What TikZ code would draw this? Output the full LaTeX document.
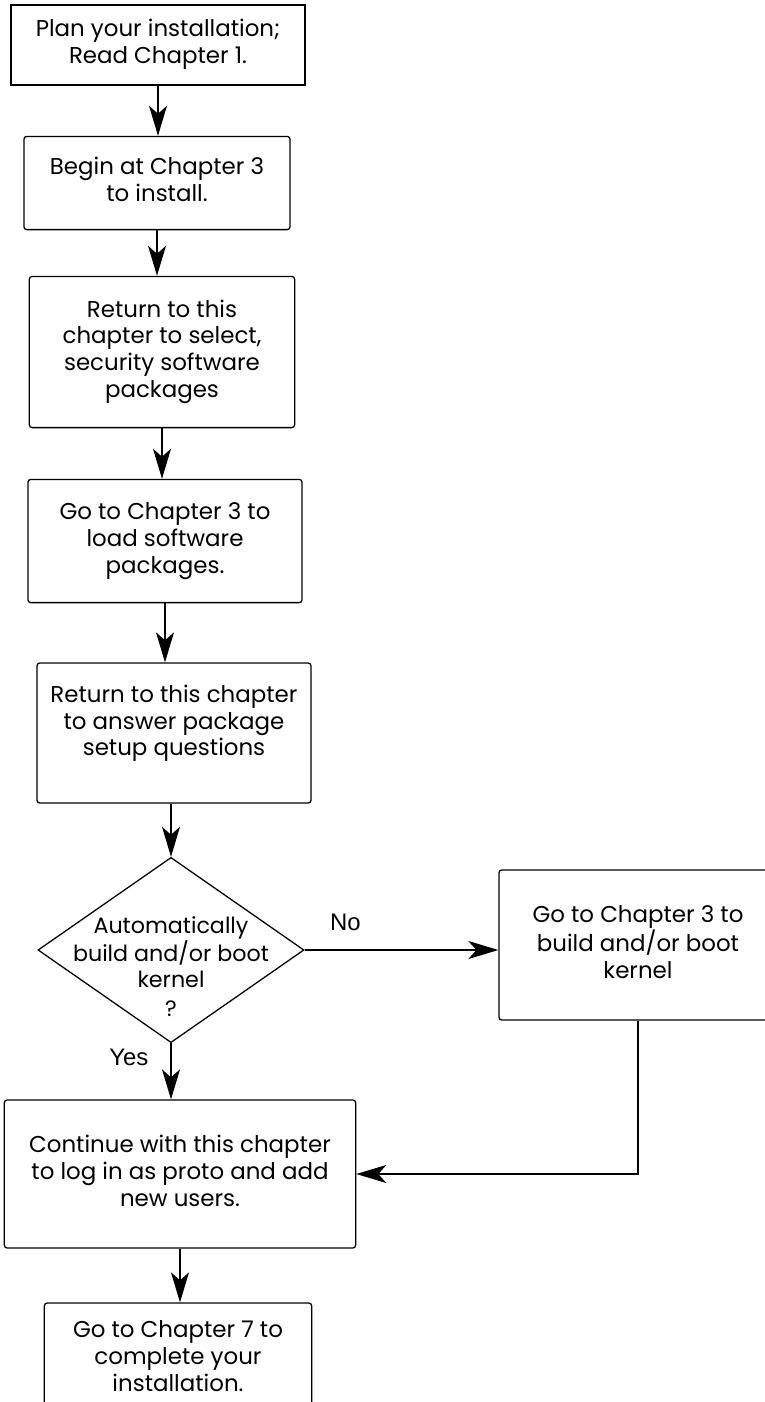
\documentclass[tikz,border=0pt]{standalone}
\usepackage{fontspec}
\setmainfont{Poppins}
\newfontfamily\yesnofont{Liberation Sans}
\usetikzlibrary{shapes.geometric, arrows.meta, positioning}

\begin{document}
\begin{tikzpicture}[
  x=0.025cm, y=-0.025cm,
  stepbox/.style={rectangle, rounded corners=2pt, draw=black, line width=0.9pt, inner sep=0pt, font=\fontsize{16.3}{19}\selectfont},
  choice/.style={diamond, draw=black, line width=0.9pt, inner sep=0pt, font=\fontsize{15.8}{18.5}\selectfont},
  arr/.style={line width=0.8pt, -{Stealth[length=0.75cm, width=0.45cm, inset=0.2cm]}},
  lbl/.style={inner sep=0pt, font=\yesnofont\fontsize{17}{20}\selectfont}
]
  \useasboundingbox (0,0) rectangle (764,1402);

  \node[stepbox, sharp corners, minimum width=7.35cm, minimum height=2.0cm] (plan) at (158,45) {
    \begin{tabular}{c}
      Plan your installation; \\
      Read Chapter 1.
    \end{tabular}
  };
  \node[stepbox, minimum width=6.65cm, minimum height=2.33cm] (begin) at (157,183) {
    \begin{tabular}{c}
      Begin at Chapter 3 \\
      to install.
    \end{tabular}
  };
  \node[stepbox, minimum width=6.63cm, minimum height=3.78cm] (select) at (162,352) {
    \begin{tabular}{c}
      Return to this \\
      chapter to select, \\
      security software \\
      packages
    \end{tabular}
  };
  \node[stepbox, minimum width=6.85cm, minimum height=3.08cm] (load) at (165,541) {
    \begin{tabular}{c}
      Go to Chapter 3 to \\
      load software \\
      packages.
    \end{tabular}
  };
  \node[stepbox, minimum width=6.85cm, minimum height=3.5cm] (setup) at (174,733) {
    \raisebox{0.23cm}[\height][\depth]{\begin{tabular}{c}
      Return to this chapter \\
      to answer package \\
      setup questions
    \end{tabular}}
  };

  % decision
  \node[choice, minimum width=6.65cm, minimum height=4.63cm] (auto) at (171,950) {
    \raisebox{-0.62cm}[0pt][0pt]{\makebox[0pt]{\begin{tabular}{c}
      Automatically \\
      build and/or boot \\
      kernel \\[2pt]
      ?
    \end{tabular}}}
  };
  \node[stepbox, minimum width=6.95cm, minimum height=3.75cm] (build) at (638,945) {
    \begin{tabular}{c}
      Go to Chapter 3 to \\
      build and/or boot \\
      kernel
    \end{tabular}
  };
  \node[stepbox, minimum width=8.78cm, minimum height=3.7cm] (users) at (180,1174) {
    \begin{tabular}{c}
      Continue with this chapter \\
      to log in as proto and add \\
      new users.
    \end{tabular}
  };
  \node[stepbox, minimum width=6.68cm, minimum height=2.8cm] (finish) at (178,1359) {
    \begin{tabular}{c}
      Go to Chapter 7 to \\
      complete your \\
      installation.
    \end{tabular}
  };

  % connectors
  \draw[arr] (plan.south) -- (plan.south |- begin.north);
  \draw[arr] (begin.south) -- (begin.south |- select.north);
  \draw[arr] (select.south) -- (select.south |- load.north);
  \draw[arr] (load.south) -- (load.south |- setup.north);
  \draw[arr] (auto.north |- setup.south) -- (auto.north);
  \draw[arr] (auto.east) -- (auto.east -| build.west)
    node[lbl, pos=0.21, above=0.48cm] (no) {No};
  \draw[arr] (auto.south) -- (auto.south |- users.north)
    node[lbl, pos=0.26, left=0.55cm] (yes) {Yes};
  \draw[arr] (build) |- (users);
  \draw[arr] (users.south) -- (users.south |- finish.north);
\end{tikzpicture}
\end{document}
